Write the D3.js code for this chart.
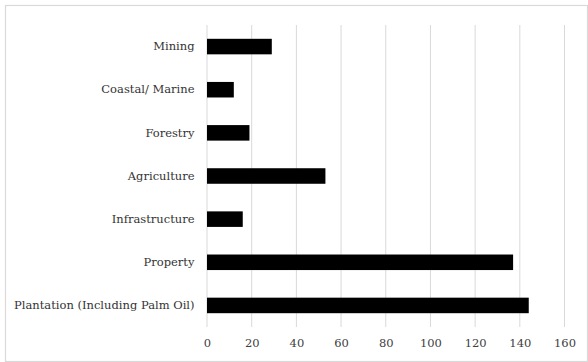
<!DOCTYPE html>
<html>
<head>
<meta charset="utf-8">
<script src="https://cdn.jsdelivr.net/npm/d3@7"></script>
<style>
  body { margin: 0; background: #fff; }
</style>
</head>
<body>
<div id="container"></div>
<script>
var width = 588;
var height = 362;
var fontFamily = "'DejaVu Serif'";

var categories = ["Mining", "Coastal/ Marine", "Forestry", "Agriculture",
  "Infrastructure", "Property", "Plantation (Including Palm Oil)"];
var values = [29, 12, 19, 53, 16, 137, 144];
var xTicks = [0, 20, 40, 60, 80, 100, 120, 140, 160];

var margin = {top: 25, right: 24, bottom: 35, left: 207};

var svg = d3.select("#container")
  .append("svg")
  .attr("width", width)
  .attr("height", height);

// chart frame
svg.append("rect")
  .attr("x", 5.5)
  .attr("y", 5.5)
  .attr("width", width - 6)
  .attr("height", height - 6)
  .attr("fill", "#fff")
  .attr("stroke", "#d9d9d9")
  .attr("stroke-width", 1.2);

var x = d3.scaleLinear()
  .domain([0, 160])
  .range([margin.left, 564.5]);

var y = d3.scaleBand()
  .domain(categories)
  .range([margin.top, height - margin.bottom])
  .paddingInner(0.64)
  .paddingOuter(0.32);

// gridlines
svg.append("g")
  .selectAll("line")
  .data(xTicks)
  .enter().append("line")
  .attr("x1", function(d) { return x(d); })
  .attr("x2", function(d) { return x(d); })
  .attr("y1", margin.top)
  .attr("y2", height - margin.bottom)
  .attr("stroke", "#d9d9d9")
  .attr("stroke-width", 1);

svg.append("g")
  .selectAll("rect")
  .data(values)
  .enter().append("rect")
  .attr("x", x(0))
  .attr("y", function(d, i) { return y(categories[i]); })
  .attr("width", function(d) { return x(d) - x(0); })
  .attr("height", y.bandwidth())
  .attr("fill", "#000");

// x axis labels
var xAxis = d3.axisBottom(x)
  .tickValues(xTicks)
  .tickSize(0)
  .tickPadding(12);

var gx = svg.append("g")
  .attr("transform", "translate(0," + (height - margin.bottom) + ")")
  .call(xAxis)
  .attr("font-family", fontFamily)
  .attr("font-size", 11.5);
gx.select(".domain").remove();
gx.selectAll("text").attr("fill", "#404040");

// category labels
var yAxis = d3.axisLeft(y)
  .tickSize(0)
  .tickPadding(12.5);

var gy = svg.append("g")
  .attr("transform", "translate(" + margin.left + ",0)")
  .call(yAxis)
  .attr("font-family", fontFamily)
  .attr("font-size", 11.5);
gy.select(".domain").remove();
gy.selectAll("text").attr("fill", "#333");
</script>
</body>
</html>
